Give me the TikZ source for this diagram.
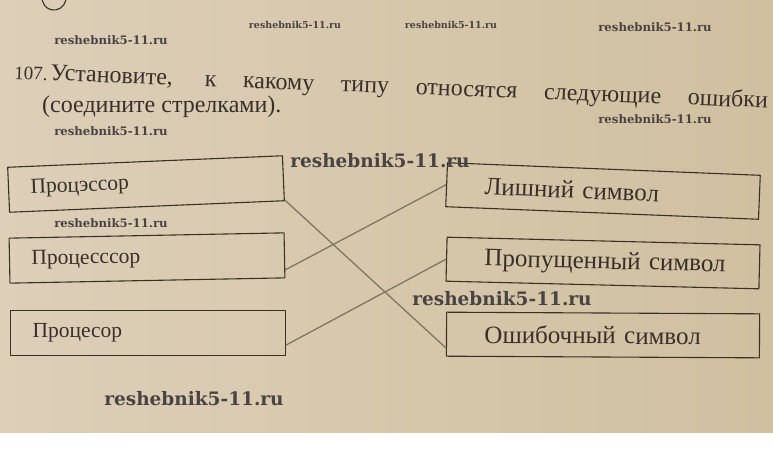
\documentclass[tikz,border=0pt]{standalone}
\usepackage{fontspec}
\setmainfont{Liberation Serif}
\newfontfamily\wmfont{DejaVu Serif}
\definecolor{paperl}{RGB}{221,207,184}
\definecolor{paperr}{RGB}{208,192,160}
\definecolor{boxline}{RGB}{58,48,38}
\definecolor{inkt}{RGB}{55,48,42}
\definecolor{linkc}{RGB}{125,120,100}
\definecolor{wmc}{RGB}{72,68,66}
\begin{document}
\begin{tikzpicture}[x=1pt,y=-1pt,line join=round,
  ink/.style={draw=boxline,line width=1.1pt},
  task/.style={inner sep=0pt,text=inkt,font=\fontsize{24}{24}\selectfont},
  word/.style={ink,text=inkt,inner xsep=22pt,text width=231pt,minimum height=45pt,align=left,font=\fontsize{21.5}{24}\selectfont},
  kind/.style={ink,text=inkt,inner xsep=4pt,text width=305pt,minimum height=44pt,align=left,
    execute at begin node={\hspace*{34pt}},font=\fontsize{25}{28}\selectfont},
  link/.style={draw=linkc,line width=1.3pt},
  wm/.style={text=wmc,inner sep=0pt,font=\wmfont\bfseries\fontsize{#1}{#1}\selectfont}]
  \useasboundingbox (0,0) rectangle (773,467);
  \fill[left color=paperl,right color=paperr] (0,0) rectangle (773,433);
  \fill[white] (0,433) rectangle (773,467);
  \draw[ink] (54,-2) ++(-10:12) arc[start angle=-10,end angle=190,radius=12];
  % task text
  \node[task,anchor=base west,rotate=-2.2] (t1) at (14,79)
    {\makebox[754pt][s]{{\fontsize{19}{19}\selectfont 107.}\kern3pt Установите, к какому типу относятся следующие ошибки}};
  \node[task,anchor=base west] (t2) at (42,112) {(соедините стрелками).};
  % words with errors
  \node[word,rotate=2.4] (p1) at (146,184) {Процэссор};
  \node[word,rotate=1.1] (p2) at (147,258) {Процесссор};
  \node[word] (p3) at (148,333) {Процесор};
  % kinds of errors
  \node[kind,rotate=-2.3] (k1) at (603,191) {Лишний символ};
  \node[kind,rotate=-1.4] (k2) at (603,263) {Пропущенный символ};
  \node[kind,rotate=-0.3] (k3) at (603,335) {Ошибочный символ};
  \draw[link] (p1.-9) -- (k3.185);
  \draw[link] (p2.-6) -- (k1.west);
  \draw[link] (p3.-5) -- (k2.west);
  % watermarks
  \node[wm=9.5] (r1) at (295,25) {reshebnik5-11.ru};
  \node[wm=9.5] (r2) at (451,25) {reshebnik5-11.ru};
  \node[wm=11.7] (r3) at (655,27) {reshebnik5-11.ru};
  \node[wm=11.7] (r4) at (111,40) {reshebnik5-11.ru};
  \node[wm=11.7] (r5) at (111,131) {reshebnik5-11.ru};
  \node[wm=11.7] (r6) at (655,119) {reshebnik5-11.ru};
  \node[wm=11.7] (r7) at (111,223) {reshebnik5-11.ru};
  \node[wm=18.5] (r8) at (380,161) {reshebnik5-11.ru};
  \node[wm=18.5] (r9) at (502,299) {reshebnik5-11.ru};
  \node[wm=18.5] (r10) at (194,399) {reshebnik5-11.ru};
\end{tikzpicture}
\end{document}
